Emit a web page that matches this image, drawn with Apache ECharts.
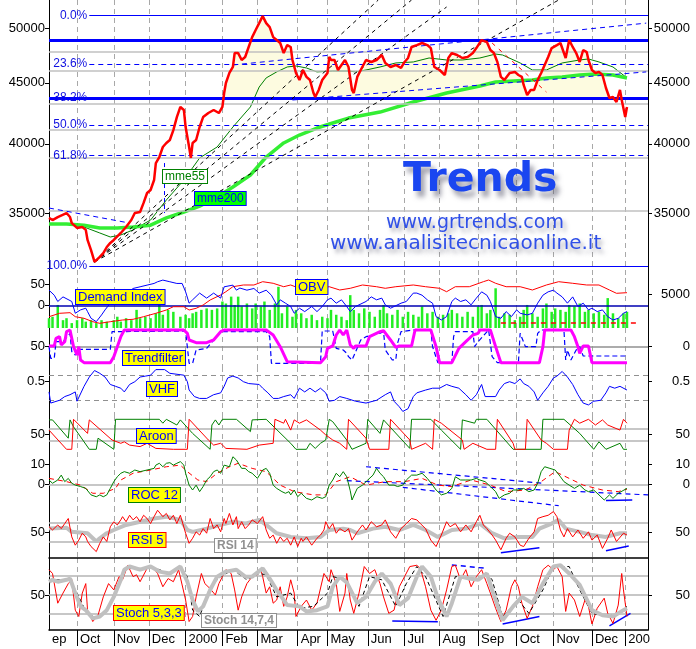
<!DOCTYPE html>
<html><head><meta charset="utf-8">
<script src="https://cdn.jsdelivr.net/npm/echarts@6.0.0/dist/echarts.min.js"></script>
<style>html,body{margin:0;padding:0;background:#fff}#c{width:696px;height:649px}</style>
</head><body><div id="c"></div>
<script>
// ---- axis / tick data ----
const NCAT = 343;
const monthStarts = [0,16,37,57,78,99,119,142,159,182,203,223,245,267,288,310,329];
const monthLabels = ['ep','Oct','Nov','Dec','2000','Feb','Mar','Apr','May','Jun','Jul','Aug','Sep','Oct','Nov','Dec','200'];
const priceTicks = [35000,40000,45000,50000];

// ---- main panel ----
const price = [[0,34680],[2,34540],[5,34740],[10,35010],[12,34740],[13,34340],[16,34020],[19,34080],[21,33890],[22,33240],[24,32600],[26,31860],[29,32170],[31,32410],[33,32790],[35,33050],[37,33240],[41,33690],[44,34080],[47,34540],[49,35010],[52,35080],[54,35700],[56,36390],[58,36600],[60,37310],[61,38550],[63,39000],[65,39760],[67,40070],[69,40300],[71,41080],[73,42120],[75,42950],[77,42700],[78,41320],[80,39760],[81,38930],[82,40070],[84,40300],[86,41320],[88,42120],[91,42450],[94,42700],[97,42450],[99,42950],[100,44120],[101,44980],[103,45860],[105,46390],[106,47650],[108,47650],[110,47020],[112,47290],[114,48210],[116,49140],[118,49810],[120,50480],[122,51170],[124,50480],[126,50100],[128,49140],[130,48860],[132,48580],[134,47650],[136,48390],[138,48210],[139,47020],[141,45860],[143,45240],[145,46120],[147,45510],[149,45240],[151,44120],[152,43780],[154,44380],[156,45240],[159,45860],[160,47290],[161,47020],[163,47020],[165,46120],[167,46570],[169,47020],[171,46390],[173,44380],[174,44120],[176,45510],[178,46120],[181,47020],[184,46840],[187,47020],[190,47470],[192,46750],[195,46390],[198,46570],[201,46300],[203,46840],[205,47200],[207,48210],[210,48390],[213,48580],[216,48390],[218,48110],[220,46390],[223,46120],[226,45680],[228,47200],[230,47650],[233,47470],[236,47200],[239,47290],[242,47650],[244,48110],[247,48860],[250,48670],[252,47930],[254,47650],[256,46840],[258,45510],[260,45240],[263,45860],[266,45950],[268,45680],[270,45510],[271,44810],[273,43950],[275,44380],[277,44380],[279,45240],[281,45860],[283,46570],[285,47290],[287,48110],[290,48390],[292,48580],[295,47200],[297,48860],[299,48210],[301,47650],[303,46840],[305,47930],[307,47740],[308,47020],[310,46120],[312,45860],[314,45950],[316,45680],[318,44550],[320,43700],[322,43780],[324,43360],[326,44380],[327,43530],[329,42120],[330,42950]];
const mme200 = [[0,34270],[10,34270],[20,34200],[29,34020],[39,34020],[48,34080],[58,34200],[67,34680],[77,35080],[86,35480],[96,36110],[105,36810],[115,37670],[124,39000],[134,40070],[143,40690],[153,41240],[162,41640],[171,42040],[189,42530],[208,43360],[227,44120],[246,44720],[255,45070],[265,45150],[276,45240],[284,45420],[293,45510],[303,45680],[312,45770],[322,45680],[330,45420]];
const mme55 = [[0,34270],[10,34270],[20,34080],[29,33690],[35,33430],[41,33560],[48,33890],[58,34540],[67,35900],[77,37310],[86,38930],[96,39760],[105,41320],[115,42950],[120,44630],[124,45420],[130,45950],[136,46390],[141,46480],[147,46300],[153,45950],[162,46030],[171,46030],[175,45950],[181,46120],[189,46390],[198,46750],[208,46840],[217,47200],[227,47020],[236,47020],[246,47200],[255,47560],[259,47470],[269,46750],[276,46120],[284,46120],[293,46750],[303,47020],[308,47110],[314,46840],[322,46390],[330,45420]];
const fillBase = 43640;
const blueThick = [48800, 43640];
const greyLevels = [47740, 46030, 43190, 41080, 38930, 35160];
const fibLevels = [51240, 46660, 43700, 41480, 39130, 31610];
const fibLabels = ['0.0%','23.6%','38.2%','50.0%','61.8%','100.0%'];
const fibStart = [23, 23, 23, 23, 23, 23];
const fibDashed = [false, true, true, true, true, false];
const fanFrom = [26, 31860];
const fanTo = [[188,52780],[207,52780],[227,52070],[291,52780]];
const channels = [[[105,46570],[341,50480]], [[139,43530],[341,45950]], [[0,35350],[46,34340]]];
const redTrend = [[253,48580],[284,44200]];
const mme55Connector = [[66,38550],[66,35010]];

// ---- Demand Index / OBV / volume ----
const demandIdx = [[0,37],[3,25],[5,10],[8,21],[13,10],[15,-18],[18,-10],[21,-6],[22,-14],[24,-30],[27,-38],[30,-22],[32,-10],[35,6],[41,10],[43,18],[45,30],[48,41],[52,45],[56,49],[60,53],[62,57],[65,61],[69,57],[73,53],[76,53],[78,33],[80,6],[82,14],[86,30],[90,18],[94,30],[98,18],[100,45],[105,49],[107,37],[109,42],[113,37],[117,41],[120,30],[124,37],[127,25],[130,2],[132,14],[135,6],[138,-2],[140,-18],[143,-6],[146,-14],[150,-2],[153,-14],[156,-2],[159,14],[161,18],[164,6],[167,14],[170,-2],[172,-14],[175,-2],[181,10],[184,21],[187,14],[190,18],[192,2],[195,-6],[201,6],[204,10],[208,30],[210,30],[213,25],[216,14],[219,6],[221,-26],[224,-34],[227,-26],[230,10],[232,18],[235,10],[238,14],[241,2],[244,18],[247,33],[250,25],[252,10],[255,-26],[258,-30],[261,-14],[264,-26],[267,-10],[269,-18],[273,-22],[276,-18],[279,6],[282,25],[285,33],[288,37],[290,30],[293,21],[296,6],[299,21],[302,-2],[305,6],[308,-10],[310,-6],[313,-14],[316,-10],[319,-26],[322,-34],[325,-30],[328,-18],[330,-14]];
const obv = [[0,-2310],[6,-1200],[12,-1000],[15,-2310],[20,-2830],[25,-3940],[29,-4470],[35,-3940],[42,-3390],[48,-3160],[54,-2310],[61,-1200],[67,-120],[71,950],[77,950],[80,-120],[84,430],[88,1510],[92,3140],[98,4780],[101,5850],[105,7480],[111,8040],[117,8040],[122,9120],[128,8600],[134,7480],[138,8040],[143,6960],[149,7480],[155,6960],[160,7480],[166,6410],[172,6960],[179,8040],[187,7480],[192,6960],[198,7480],[208,8040],[215,7480],[223,6960],[227,5850],[232,7480],[240,7480],[248,9120],[251,9670],[255,8600],[261,7480],[269,7480],[276,6410],[284,8040],[291,9120],[299,8600],[307,8040],[314,8040],[320,6410],[324,5330],[330,5530]];
const obvLevel = [[258,-4370],[337,-4370]];
const volume = [[0,20],[2,23],[5,47],[8,16],[10,20],[13,10],[16,16],[19,20],[21,13],[24,16],[27,10],[30,16],[33,13],[37,16],[39,23],[41,13],[44,20],[47,16],[50,37],[52,20],[55,23],[58,20],[61,30],[63,47],[65,27],[68,37],[71,33],[75,23],[78,27],[80,20],[82,30],[84,33],[87,37],[90,40],[93,37],[96,40],[99,54],[101,50],[104,64],[106,47],[108,64],[110,44],[113,50],[116,40],[118,50],[121,44],[123,54],[126,37],[129,50],[131,84],[133,30],[136,44],[139,23],[141,37],[144,30],[147,20],[150,27],[153,16],[156,23],[159,20],[161,37],[164,27],[167,23],[170,16],[172,67],[174,37],[177,30],[180,40],[183,33],[186,23],[189,37],[191,47],[193,30],[196,27],[199,37],[202,23],[205,33],[208,27],[211,23],[213,44],[216,30],[219,33],[222,23],[225,27],[228,30],[230,37],[233,30],[236,23],[239,33],[242,23],[245,44],[247,47],[250,30],[252,37],[255,81],[257,23],[260,30],[263,27],[266,16],[269,23],[271,37],[273,47],[276,30],[279,23],[282,40],[284,50],[287,33],[289,40],[292,37],[295,33],[297,47],[300,44],[303,50],[306,33],[308,37],[311,30],[314,33],[317,27],[319,61],[322,30],[325,20],[328,30],[330,33]];

// ---- Trendfilter ----
const trendfilter = [[0,52],[3,52],[4,75],[5,70],[6,80],[7,55],[9,65],[10,95],[12,100],[13,95],[14,50],[16,25],[17,50],[18,10],[20,2],[35,2],[37,20],[39,50],[41,80],[43,100],[77,100],[79,90],[80,70],[84,62],[90,62],[94,70],[98,95],[100,100],[124,100],[128,85],[132,50],[136,5],[155,2],[158,20],[159,45],[162,52],[164,85],[166,100],[168,85],[170,100],[172,55],[174,45],[175,52],[181,52],[183,80],[189,95],[191,98],[195,70],[198,48],[200,52],[207,52],[209,100],[218,100],[221,50],[223,2],[230,2],[234,45],[238,65],[242,85],[245,90],[246,100],[252,100],[255,50],[258,2],[280,2],[282,50],[283,100],[298,100],[300,80],[302,50],[303,30],[305,52],[308,52],[310,2],[330,2]];
const trendSignal = [[0,50],[1,15],[3,15],[4,65],[8,65],[12,90],[13,35],[15,25],[16,42],[35,42],[36,95],[78,97],[80,0],[82,0],[84,40],[90,45],[94,70],[98,95],[124,95],[126,80],[127,0],[155,0],[156,97],[162,97],[164,45],[168,40],[170,30],[171,20],[173,10],[178,70],[181,80],[189,90],[191,95],[192,40],[196,10],[198,10],[199,60],[201,95],[208,100],[218,100],[219,50],[222,2],[230,2],[231,80],[232,95],[242,95],[243,50],[245,65],[251,100],[253,20],[256,2],[268,2],[269,90],[270,95],[272,50],[278,50],[279,90],[281,100],[294,100],[295,10],[296,40],[298,10],[301,40],[303,50],[305,22],[330,22]];

// ---- VHF ----
const vhf = [[0,.39],[1,.27],[6,.30],[9,.34],[12,.36],[15,.39],[16,.29],[20,.45],[23,.55],[26,.62],[29,.59],[32,.55],[35,.47],[38,.45],[41,.43],[43,.39],[46,.47],[49,.50],[52,.55],[55,.56],[58,.57],[61,.63],[66,.63],[69,.59],[77,.57],[79,.50],[80,.41],[83,.34],[86,.32],[90,.32],[94,.36],[98,.38],[100,.45],[102,.54],[105,.56],[108,.54],[111,.50],[114,.48],[120,.47],[122,.43],[125,.38],[128,.32],[131,.32],[134,.34],[138,.36],[140,.32],[143,.43],[146,.39],[149,.43],[152,.39],[155,.43],[158,.38],[160,.29],[163,.30],[166,.34],[170,.32],[175,.29],[181,.27],[187,.30],[192,.36],[195,.39],[197,.29],[200,.23],[202,.18],[205,.21],[208,.34],[210,.38],[215,.41],[219,.43],[223,.43],[227,.47],[230,.45],[234,.43],[238,.36],[241,.30],[244,.36],[247,.47],[249,.34],[255,.34],[257,.41],[260,.48],[263,.50],[266,.48],[269,.53],[271,.48],[274,.45],[277,.39],[279,.30],[282,.38],[285,.45],[288,.54],[290,.56],[293,.61],[296,.55],[299,.47],[302,.36],[305,.27],[308,.25],[311,.29],[315,.30],[318,.38],[320,.45],[323,.43],[326,.45],[330,.41]];
const vhfLevels = [0.57, 0.30];

// ---- Aroon ----
const aroonUp = [[0,98],[2,98],[11,37],[12,98],[14,75],[23,0],[27,0],[28,37],[37,0],[38,100],[63,100],[65,87],[67,100],[73,81],[75,98],[82,53],[92,0],[93,81],[95,98],[97,81],[99,100],[107,100],[115,59],[116,98],[124,100],[138,20],[141,0],[147,0],[149,20],[152,3],[155,20],[158,31],[160,100],[162,92],[170,31],[173,0],[181,20],[182,100],[189,53],[191,98],[206,3],[207,100],[218,100],[224,64],[235,0],[236,98],[243,87],[244,100],[250,100],[265,0],[281,0],[282,100],[294,100],[303,53],[311,0],[314,25],[318,0],[326,20],[328,0],[330,0]];
const aroonDown = [[0,64],[10,0],[13,0],[14,100],[22,53],[23,98],[36,31],[37,25],[41,20],[43,25],[46,14],[52,9],[56,20],[61,3],[71,0],[79,0],[80,100],[91,31],[94,14],[98,20],[101,3],[113,0],[120,14],[128,20],[129,100],[134,87],[135,100],[138,64],[140,98],[143,87],[147,98],[155,64],[158,48],[162,31],[166,20],[170,0],[171,100],[181,37],[183,0],[194,0],[195,100],[206,31],[207,0],[215,20],[219,0],[220,100],[224,87],[236,31],[237,0],[242,20],[250,0],[255,0],[256,100],[265,20],[266,0],[272,0],[273,100],[281,31],[284,20],[288,0],[296,0],[297,64],[300,100],[303,87],[308,100],[312,81],[316,98],[319,81],[326,64],[328,100],[330,87]];
const aroonLevels = [70, 30];

// ---- ROC 12 ----
const roc = [[0,2.3],[2,0.7],[5,2.3],[7,4.7],[9,1.5],[11,3.1],[13,0.7],[15,-0.2],[18,-0.9],[21,-1.8],[22,-2.6],[24,-5.0],[27,-5.9],[29,-5.0],[31,-5.9],[33,-5.0],[35,-1.8],[37,1.5],[39,3.9],[41,5.6],[43,6.4],[46,5.6],[49,7.2],[52,6.4],[56,7.2],[60,8.0],[61,9.6],[63,10.5],[65,8.8],[67,10.5],[69,10.8],[71,9.6],[73,10.5],[75,11.3],[77,9.6],[78,5.6],[80,-0.2],[82,-2.6],[84,-0.2],[86,-3.4],[88,-0.9],[90,2.3],[92,3.9],[94,6.4],[96,7.2],[98,5.6],[100,9.6],[101,10.5],[103,8.8],[105,13.7],[107,12.1],[108,11.3],[110,8.0],[112,8.0],[114,6.4],[116,5.6],[119,3.1],[122,7.2],[124,8.0],[126,5.6],[128,-0.2],[130,-1.8],[133,-3.4],[135,-4.2],[137,-3.4],[138,-5.0],[140,-2.6],[142,-5.9],[144,-4.2],[147,-6.7],[150,-7.5],[153,-5.9],[156,-6.7],[158,-5.9],[160,-0.2],[162,2.3],[164,5.6],[166,3.9],[168,6.4],[170,3.9],[172,-3.0],[173,-7.5],[176,-1.8],[179,-0.2],[182,2.3],[185,4.7],[187,8.0],[189,5.6],[191,3.9],[194,-0.2],[197,-0.2],[199,-0.9],[202,-0.2],[204,2.3],[207,4.7],[210,4.7],[213,5.6],[216,3.1],[219,-0.2],[221,-2.6],[224,-5.0],[227,-4.2],[230,-1.8],[232,3.9],[235,2.3],[238,2.3],[241,2.3],[244,3.1],[246,2.3],[249,1.5],[252,-0.9],[255,-3.4],[257,-6.7],[260,-5.0],[263,-4.2],[265,-2.6],[268,-2.6],[271,-1.8],[274,-3.4],[277,-2.6],[279,0.7],[281,6.4],[283,8.8],[286,8.0],[289,7.2],[292,3.9],[294,1.5],[297,-0.2],[300,-1.8],[303,-0.2],[306,-2.6],[308,-3.4],[311,-2.6],[314,-5.0],[317,-7.5],[320,-5.0],[322,-6.7],[325,-4.2],[330,-1.8]];
const rocSignal = [[0,3.1],[10,1.5],[18,-0.2],[25,-4.2],[31,-4.2],[38,-1.8],[41,2.3],[48,5.6],[58,7.2],[67,8.8],[75,9.6],[79,6.4],[85,2.3],[90,1.5],[96,5.6],[103,8.8],[108,10.5],[116,8.0],[124,6.4],[132,-0.2],[140,-3.4],[151,-5.0],[158,-5.0],[164,1.5],[172,3.9],[181,-0.2],[192,1.5],[203,1.5],[213,3.1],[222,-0.2],[230,-0.9],[241,2.3],[252,-0.2],[261,-3.4],[272,-2.6],[281,1.5],[289,6.4],[297,3.1],[305,-0.2],[316,-2.6],[325,-3.4],[330,-2.2]];
const rocTrendDashed = [[[181,8.8],[282,0.7]], [[170,2.0],[342,-5.0]], [[202,-1.3],[291,-10.3]]];
const rocTrendSolid = [[[318,-7.8],[333,-7.5]]];

// ---- RSI ----
const rsi5 = [[0,62],[2,55],[5,66],[7,58],[9,69],[11,80],[13,40],[15,22],[17,33],[19,48],[21,40],[22,30],[24,19],[27,8],[29,26],[31,40],[33,30],[35,62],[37,73],[39,66],[41,77],[42,84],[44,73],[46,87],[48,77],[50,84],[52,73],[54,87],[56,80],[58,69],[60,84],[62,98],[65,84],[67,91],[69,77],[71,87],[73,69],[75,87],[78,48],[80,26],[82,37],[84,51],[86,44],[88,58],[90,48],[92,80],[94,58],[96,66],[98,51],[100,80],[101,69],[103,91],[105,66],[107,84],[108,58],[110,73],[112,58],[114,66],[116,77],[119,69],[122,84],[124,55],[126,37],[128,44],[130,26],[132,40],[134,30],[136,37],[138,22],[140,40],[142,19],[144,37],[145,30],[147,40],[150,22],[153,37],[155,44],[157,55],[158,73],[160,58],[162,69],[164,48],[166,58],[169,51],[171,58],[173,33],[176,51],[179,66],[181,55],[184,73],[187,62],[190,66],[192,77],[195,51],[198,37],[201,58],[204,69],[207,80],[210,77],[212,69],[215,58],[218,33],[221,19],[224,44],[227,73],[229,62],[232,69],[235,51],[238,66],[241,51],[244,73],[246,87],[248,66],[250,58],[253,44],[255,33],[258,12],[261,37],[263,48],[266,40],[269,22],[271,19],[274,37],[277,51],[279,80],[282,84],[285,87],[288,95],[290,84],[292,55],[294,40],[296,58],[299,40],[302,55],[305,37],[308,51],[310,33],[313,44],[316,15],[319,37],[321,55],[324,30],[328,48],[330,44]];
const rsi14 = [[0,58],[10,60],[13,51],[22,48],[27,30],[29,37],[33,48],[37,55],[44,66],[52,73],[60,80],[67,84],[75,77],[79,55],[82,51],[90,58],[98,66],[105,73],[112,69],[120,77],[124,66],[130,48],[138,40],[147,37],[155,40],[160,55],[168,58],[172,55],[176,48],[185,58],[192,62],[200,55],[208,66],[215,55],[222,40],[230,55],[238,58],[246,69],[253,48],[260,37],[268,40],[276,40],[280,58],[287,69],[291,77],[295,58],[303,51],[310,44],[318,40],[326,48],[330,48]];
const rsiLevels = [70, 30];
const rsiTrends = [[[258,5.7],[280,16.5]], [[318,10],[331,20]]];

// ---- Stochastics ----
const stochK = [[0,90],[2,84],[5,37],[8,53],[11,68],[13,74],[15,26],[17,16],[19,53],[21,68],[22,26],[25,8],[28,18],[31,47],[34,68],[37,58],[40,79],[42,74],[45,97],[48,79],[50,82],[52,71],[56,92],[59,95],[62,84],[65,63],[68,76],[71,71],[74,90],[75,92],[78,42],[80,8],[82,16],[84,47],[87,84],[89,68],[92,60],[95,50],[97,68],[99,79],[101,90],[104,84],[106,58],[108,26],[110,47],[113,68],[116,79],[119,82],[121,90],[122,79],[124,53],[126,63],[128,37],[130,42],[132,63],[134,32],[136,47],[138,74],[140,53],[141,16],[144,32],[147,42],[150,26],[153,37],[157,84],[160,71],[161,90],[164,68],[166,24],[169,53],[170,84],[172,42],[174,21],[177,53],[180,95],[183,84],[186,90],[189,68],[191,47],[194,21],[197,26],[200,63],[203,79],[206,95],[210,97],[212,92],[215,63],[218,26],[221,10],[224,26],[227,58],[230,95],[232,97],[235,74],[238,90],[241,63],[244,79],[247,90],[250,68],[252,53],[255,29],[258,8],[261,26],[264,63],[266,74],[268,63],[270,37],[273,13],[276,32],[279,63],[282,90],[285,97],[288,90],[290,95],[293,79],[295,24],[297,53],[300,42],[303,16],[306,42],[308,32],[310,4],[313,29],[317,45],[319,21],[322,5],[325,34],[327,84],[328,58],[330,16]];
const stochD = [[0,74],[12,74],[16,53],[21,24],[27,13],[33,26],[38,58],[43,92],[52,92],[61,92],[69,84],[75,95],[79,79],[82,26],[86,16],[92,63],[98,79],[105,90],[113,74],[120,84],[124,82],[130,47],[138,53],[143,29],[151,32],[159,53],[162,79],[170,74],[177,32],[183,79],[190,74],[198,32],[204,68],[210,95],[215,79],[225,16],[232,79],[238,79],[244,74],[250,84],[253,74],[259,16],[268,42],[274,21],[282,58],[288,95],[297,95],[303,58],[310,21],[318,16],[326,21],[330,32]];
const stochSlow = [[0,71],[2,74],[5,71],[10,74],[12,76],[15,53],[18,32],[21,26],[25,13],[29,16],[33,26],[37,47],[41,74],[43,90],[46,95],[52,90],[58,95],[63,87],[69,84],[75,95],[79,71],[82,42],[85,24],[88,32],[92,58],[96,79],[101,87],[107,90],[112,79],[116,79],[122,92],[126,76],[130,58],[136,34],[143,32],[147,24],[153,26],[159,32],[162,63],[166,79],[170,70],[176,37],[181,47],[186,71],[190,84],[195,68],[200,34],[205,45],[210,79],[213,95],[218,79],[222,45],[227,16],[230,37],[235,79],[240,76],[245,74],[250,84],[253,58],[259,10],[265,32],[270,47],[276,37],[282,68],[288,95],[292,97],[297,84],[303,66],[310,26],[316,18],[322,16],[328,26],[330,29]];
const stochLevels = [80, 50, 20];
const stochTrendsSolid = [[[196,8.9],[222,7.8]], [[259,4],[280,16]], [[320,1],[332,21]]];
const stochTrendsDashed = [[[230,97.5],[250,92]]];

// ================= chart =================
const FONT = '"Liberation Sans", Arial, sans-serif';
const cats = Array.from({length: NCAT}, (_, i) => String(i));
const isMonth = i => monthStarts.indexOf(i) >= 0;

const gridDefs = [[0,278],[278,50],[328,39],[367,49],[416,36],[452,55],[507,51],[558,72]];
const grids = gridDefs.map(g => ({left:49, width:599, top:g[0], height:g[1], show:false, containLabel:false, outerBoundsMode:'none'}));

const xAxes = gridDefs.map((g, i) => ({
  type:'category', gridIndex:i, data:cats, boundaryGap:false,
  axisLine:{show: i === 7, onZero:false, lineStyle:{color:'#000', width:1.5}},
  axisTick:{show: i === 7, interval:(k) => k > 0 && isMonth(k), length:16, lineStyle:{color:'#000', width:1}},
  axisLabel:{show: i === 7, interval:(k) => isMonth(k), formatter:(v, k) => monthLabels[monthStarts.indexOf(k)] || '',
    align:'left', padding:[0,0,0,3], margin:3, color:'#000', fontSize:13, fontFamily:FONT},
  splitLine:{show:true, interval:(k) => k > 0 && isMonth(k), lineStyle:{color:'#a8a8a8', type:[5,4], width:1}}
}));
xAxes.push({type:'category', gridIndex:7, position:'top', data:cats, boundaryGap:false,
  axisLine:{show:true, onZero:false, lineStyle:{color:'#000', width:1.5}}, axisTick:{show:false}, axisLabel:{show:false}, splitLine:{show:false}});

function yAx(g, min, max, labels, pos, type) {
  const a = {
    type: type || 'value', gridIndex:g, min:min, max:max, position:pos, scale:false,
    axisLine:{show:true, onZero:false, lineStyle:{color:'#000', width:1}},
    axisTick:{show:true, customValues:labels, length:4, lineStyle:{color:'#000'}},
    axisLabel:{show:true, customValues:labels, color:'#000', fontSize:13, fontFamily:FONT,
      margin: pos === 'left' ? 4 : 42, align:'right',
      formatter:(v) => String(Math.round(v * 1000) / 1000)},
    splitLine:{show:false}
  };
  if (type === 'log') a.logBase = 10;
  return a;
}
const yAxes = [
  yAx(0, 30890, 52780, priceTicks, 'left', 'log'),
  yAx(0, 30890, 52780, priceTicks, 'right', 'log'),
  yAx(1, -53.1, 65.95, [0,50], 'left'),
  yAx(1, -6000, 10325, [5000], 'right'),
  {type:'value', gridIndex:1, min:0, max:102, show:false},
  yAx(2, -11.1, 106, [50], 'left'),
  yAx(2, -0.609, 0.561, [0], 'right'),
  yAx(3, 0.131, 0.658, [0.5], 'left'),
  yAx(3, 0.131, 0.658, [0.5], 'right'),
  yAx(4, -9, 111, [50], 'left'),
  yAx(4, -9, 111, [50], 'right'),
  yAx(5, -10.93, 16.03, [0,10], 'left'),
  yAx(5, -10.93, 16.03, [0,10], 'right'),
  yAx(6, -5.87, 105, [50], 'left'),
  yAx(6, -5.87, 105, [50], 'right'),
  yAx(7, -5.38, 108.5, [50], 'left'),
  yAx(7, -5.38, 108.5, [50], 'right')
];

function ln(xi, yi, data, color, width, extra) {
  return Object.assign({type:'line', xAxisIndex:xi, yAxisIndex:yi, data:data, symbol:'none', showSymbol:false,
    lineStyle:{color:color, width:width}, itemStyle:{color:color}, silent:true, animation:false, z:3}, extra || {});
}
function ml(data, z) {
  return {silent:true, symbol:['none','none'], animation:false, z: z || 3, label:{show:false}, emphasis:{disabled:true}, data:data};
}
function hLine(v, color, width, type) { return {yAxis:v, lineStyle:{color:color, width:width, type:type || 'solid'}}; }
function seg(p, q, color, width, type, label) {
  const st = {color:color, width:width, type:type || 'solid'};
  const a = {coord:p, lineStyle:st};
  if (label) a.label = label;
  return [a, {coord:q, lineStyle:st}];
}
const GREY = '#b4b4b4';
const BLUE = '#0000ff';

// main panel marklines
const mainLines = [];
greyLevels.forEach(v => mainLines.push(hLine(v, '#c0c0c0', 1.5)));
fibLevels.forEach((v, i) => mainLines.push(seg([fibStart[i], v], [NCAT - 1, v], BLUE, 1, fibDashed[i] ? [5,4] : 'solid',
  {show:true, position:'start', formatter:fibLabels[i], color:'#1010e0', fontSize:12, fontFamily:FONT, distance:2})));
blueThick.forEach(v => mainLines.push(hLine(v, BLUE, 3)));
fanTo.forEach(p => mainLines.push(seg(fanFrom, p, '#000', 1, [4,4])));
channels.forEach(c => mainLines.push(seg(c[0], c[1], BLUE, 1, [5,4])));
mainLines.push(seg(redTrend[0], redTrend[1], '#ff0000', 1, [4,5]));
mainLines.push(seg(mme55Connector[0], mme55Connector[1], BLUE, 1, [4,3]));

const series = [
  ln(0, 0, price.filter(p => p[0] >= 100 && p[0] <= 323), '#fdfbe0', 0,
     {z:1, lineStyle:{width:0, color:'#fdfbe0'}, areaStyle:{color:'#fdfbe0', opacity:1, origin:fillBase}}),
  ln(0, 0, mme55, '#008000', 1, {z:2, markLine: ml(mainLines, 3)}),
  ln(0, 0, mme200, '#33ee33', 3.5, {z:2}),
  ln(0, 0, price, '#ff0000', 2.5, {z:4}),

  {type:'bar', xAxisIndex:1, yAxisIndex:4, data:volume, barWidth:2.5, itemStyle:{color:'#22ee22'}, silent:true, animation:false, z:1},
  ln(1, 3, obv, '#ff0000', 1, {markLine: ml([seg(obvLevel[0], obvLevel[1], '#ff0000', 1.5, [5,5])])}),
  ln(1, 2, demandIdx, '#0000ff', 1, {markLine: ml([hLine(0, '#0000b0', 1.5)])}),

  ln(2, 5, trendSignal, '#0000ff', 1.2, {lineStyle:{color:'#0000ff', width:1.2, type:[5,3]}, markLine: ml([hLine(50, '#909090', 1.5)], 1)}),
  ln(2, 5, trendfilter, '#ff00ff', 3),

  ln(3, 7, vhf, '#0000ff', 1, {markLine: ml(vhfLevels.map(v => hLine(v, '#909090', 1, [5,4])), 1)}),

  ln(4, 9, aroonUp, '#008000', 1, {markLine: ml(aroonLevels.map(v => hLine(v, GREY, 1.5)), 1)}),
  ln(4, 9, aroonDown, '#ff0000', 1),

  ln(5, 11, rocSignal, '#ff0000', 1, {lineStyle:{color:'#ff0000', width:1, type:[5,4]},
     markLine: ml([hLine(0, GREY, 1.5)].concat(
       rocTrendDashed.map(s => seg(s[0], s[1], BLUE, 1.2, [5,4])),
       rocTrendSolid.map(s => seg(s[0], s[1], BLUE, 1.5)))) }),
  ln(5, 11, roc, '#008000', 1),

  ln(6, 13, rsi14, '#c0c0c0', 4, {markLine: ml(rsiLevels.map(v => hLine(v, GREY, 1.5)).concat(
       rsiTrends.map(s => seg(s[0], s[1], BLUE, 1.5))), 1)}),
  ln(6, 13, rsi5, '#ff0000', 1),

  ln(7, 15, stochK, '#ff0000', 1, {markLine: ml(stochLevels.map(v => hLine(v, GREY, 1.5)).concat(
       stochTrendsSolid.map(s => seg(s[0], s[1], BLUE, 1.5)),
       stochTrendsDashed.map(s => seg(s[0], s[1], BLUE, 1.5, [5,4]))), 1)}),
  ln(7, 15, stochD, '#000000', 1, {lineStyle:{color:'#000', width:1, type:[4,3]}}),
  ln(7, 15, stochSlow, '#c0c0c0', 4)
];

function tag(text, left, top, o) {
  o = o || {};
  return {type:'text', left:left, top:top, z:100, silent:true,
    style:{text:text, fill:o.fill || '#0000ff', font:(o.bold ? 'bold ' : '') + (o.size || 13) + 'px ' + FONT,
      backgroundColor:o.bg || '#ffff00', borderColor:o.border || '#0000ff', borderWidth:1, padding:[1,2,0,2]}};
}
const graphics = [
  {type:'text', left:403, top:160, z:100, silent:true, style:{text:'Trends', fill:'#1a46f0', font:'bold 41px "DejaVu Sans", sans-serif',
     textShadowColor:'rgba(90,90,110,0.55)', textShadowBlur:5, textShadowOffsetX:4, textShadowOffsetY:6}},
  {type:'text', left:386, top:214, z:100, silent:true, style:{text:'www.grtrends.com', fill:'#3050e8', font:'19px "DejaVu Sans", sans-serif',
     textShadowColor:'rgba(90,90,110,0.5)', textShadowBlur:4, textShadowOffsetX:3, textShadowOffsetY:4}},
  {type:'text', left:330, top:234, z:100, silent:true, style:{text:'www.analisitecnicaonline.it', fill:'#3050e8', font:'20px "DejaVu Sans", sans-serif',
     textShadowColor:'rgba(90,90,110,0.5)', textShadowBlur:4, textShadowOffsetX:3, textShadowOffsetY:4}},
  tag('mme55', 162, 169, {bg:'#ffffff', border:'#008000', fill:'#008000', size:12}),
  tag('mme200', 194, 191, {bg:'#00ff00', border:'#0000ff', fill:'#0000ff', size:12}),
  tag('Demand Index', 75, 289),
  tag('OBV', 295, 279),
  tag('Trendfilter', 122, 350),
  tag('VHF', 146, 381),
  tag('Aroon', 136, 428),
  tag('ROC 12', 128, 487, {border:'#008000'}),
  tag('RSI 5', 128, 532, {border:'#ff0000'}),
  tag('RSI 14', 214, 538, {bg:'#ffffff', border:'#909090', fill:'#909090', bold:true, size:12}),
  tag('Stoch 5,3,3', 113, 605, {border:'#ff0000'}),
  tag('Stoch 14,7,4', 201, 613, {bg:'#ffffff', border:'#909090', fill:'#909090', bold:true, size:12})
];

const chart = echarts.init(document.getElementById('c'), null, {renderer:'canvas'});
chart.setOption({
  backgroundColor:'#ffffff', animation:false,
  grid:grids, xAxis:xAxes, yAxis:yAxes, series:series, graphic:graphics
});
</script>
</body></html>
